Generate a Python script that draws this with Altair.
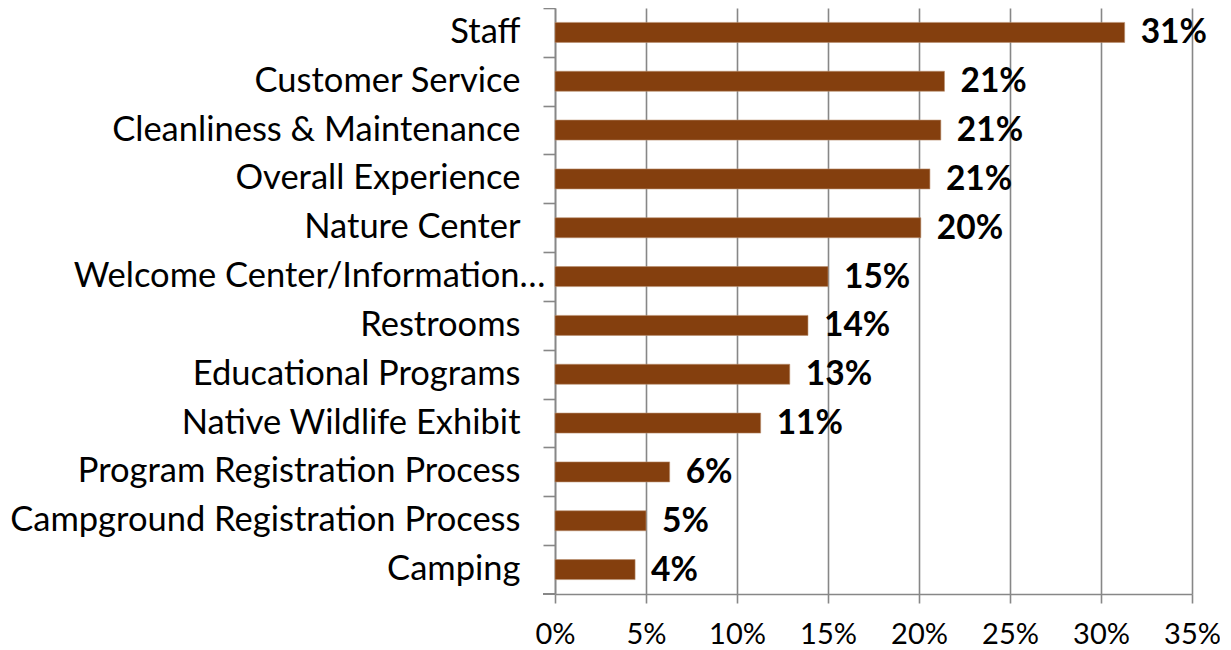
import altair as alt
import pandas as pd

categories = [
    "Staff",
    "Customer Service",
    "Cleanliness & Maintenance",
    "Overall Experience",
    "Nature Center",
    "Welcome Center/Information…",
    "Restrooms",
    "Educational Programs",
    "Native Wildlife Exhibit",
    "Program Registration Process",
    "Campground Registration Process",
    "Camping",
]
values_pct = [31.3, 21.4, 21.2, 20.6, 20.1, 15.0, 13.9, 12.9, 11.3, 6.3, 5.0, 4.4]
x_ticks_pct = [0, 5, 10, 15, 20, 25, 30, 35]

df = pd.DataFrame({"category": categories, "value": [v / 100 for v in values_pct]})

FONT = "Lato"
GRAY = "#878787"
PLOT_W = 637
PLOT_H = 586
STEP = PLOT_H / len(categories)

y_enc = alt.Y(
    "category:N",
    sort=categories,
    scale=alt.Scale(paddingInner=0.59, paddingOuter=0.295),
    axis=alt.Axis(
        title=None,
        tickSize=12,
        tickOffset=-STEP / 2,
        labelOffset=STEP / 2,
        tickColor=GRAY,
        tickWidth=1.6,
        domainColor=GRAY,
        domainWidth=1.6,
        labelFont=FONT,
        labelFontSize=34.5,
        labelColor="#000000",
        labelLimit=700,
        labelPadding={
            "condition": {"test": "datum.value === 'Welcome Center/Information…'", "value": -2},
            "value": 23,
        },
        grid=False,
    ),
)

x_enc = alt.X(
    "value:Q",
    scale=alt.Scale(domain=[0, 0.35], nice=False, zero=True),
    axis=alt.Axis(
        title=None,
        values=[t / 100 for t in x_ticks_pct],
        format=".0%",
        tickSize=9,
        tickColor=GRAY,
        tickWidth=1.6,
        domainColor=GRAY,
        domainWidth=1.6,
        grid=True,
        gridColor=GRAY,
        gridWidth=1.6,
        labelFont=FONT,
        labelFontSize=29,
        labelColor="#000000",
        labelPadding=17,
        labelFlush=False,
    ),
)

bars = alt.Chart(df).mark_bar(color="#843F0E", stroke="#B98E6E", strokeWidth=0.6).encode(
    y=y_enc, x=x_enc
)

labels = alt.Chart(df).mark_text(
    align="left", baseline="middle", dx=16, dy=1, font=FONT, fontSize=33.5, fontWeight="bold", color="#000000"
).encode(
    y=alt.Y("category:N", sort=categories),
    x=alt.X("value:Q"),
    text=alt.Text("value:Q", format=".0%"),
)

# closing category tick at the bottom of the y axis
bottom_tick = alt.Chart(df).mark_rule(color=GRAY, strokeWidth=1.6).encode(
    x=alt.value(-12), x2=alt.value(0), y=alt.value(PLOT_H)
)

chart = (
    alt.layer(bars, labels, bottom_tick)
    .properties(
        width=PLOT_W,
        height=PLOT_H,
        autosize=alt.AutoSizeParams(type="none"),
        padding={"left": 547, "top": 0, "right": 28, "bottom": 59},
        background="#ffffff",
    )
    .configure_view(stroke=None)
)

chart.save("out.html", embed_options={"renderer": "svg", "actions": False})
